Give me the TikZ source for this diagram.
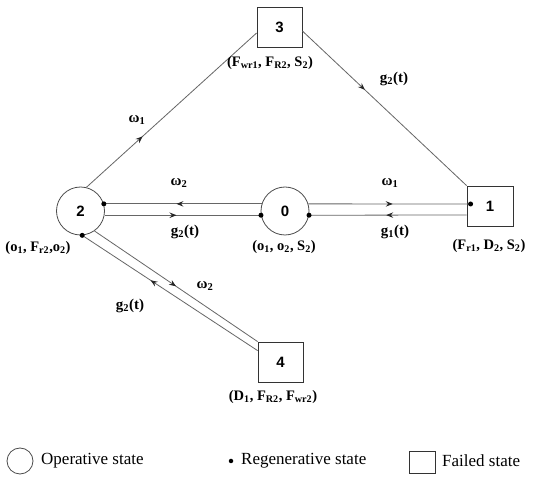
\documentclass[tikz,border=0pt]{standalone}
\usepackage{fontspec}
\setmainfont{Liberation Serif}
\newfontfamily\digitfont{Liberation Sans}
\usetikzlibrary{arrows.meta,decorations.markings,calc}
\begin{document}
\begin{tikzpicture}[x=1pt,y=-1pt,
  stbox/.style={draw=black!80,line width=0.8pt,minimum width=45pt,minimum height=40pt,inner sep=0pt,font=\digitfont\bfseries\fontsize{15}{18}\selectfont},
  stcirc/.style={circle,draw=black!70,line width=0.8pt,minimum size=48pt,inner sep=0pt,font=\digitfont\bfseries\fontsize{15}{18}\selectfont},
  conn/.style={draw=black!60,line width=0.8pt},
  lab/.style={font=\bfseries\fontsize{15}{18}\selectfont,inner sep=0pt},
  tag/.style={font=\bfseries\fontsize{14.5}{17}\selectfont,inner sep=0pt},
  legtxt/.style={font=\fontsize{17}{20}\selectfont,inner sep=0pt,anchor=west},
  regdot/.style={circle,fill=black,inner sep=0pt,minimum size=5pt},
  arrat/.style={postaction=decorate,decoration={markings,mark=at position #1 with {\arrow[black!85]{Stealth[length=7pt,width=5.5pt,inset=2.5pt]}}}},
]
\useasboundingbox[fill=white] (0,0) rectangle (547,478);

% states
\node[stcirc] (n2) at (80.5,211) {2};
\node[stcirc] (n0) at (285,211) {0};
\node[stbox,minimum width=46pt] (n1) at (490,206) {1};
\node[stbox] (n3) at (279.5,27) {3};
\node[stbox] (n4) at (280.5,362) {4};

% attachment points
\coordinate (d1) at ($(n1.west)+(4,-2)$);
\coordinate (b1) at ($(n1.west)+(0,9)$);
\coordinate (e3) at ($(n3.west)+(0,6)$);
\coordinate (f3) at ($(n3.east)+(0,4)$);
\coordinate (b4) at ($(n4.north west)+(0,9)$);

% transitions
\draw[conn,arrat=0.54] (n0.163) -- (n2.17);
\draw[conn,arrat=0.46] (n2.-10) -- (n0.190);
\draw[conn,arrat=0.52] (n0.17) -- (d1);
\draw[conn,arrat=0.51] (b1) -- (n0.-10);
\draw[conn,arrat=0.33] (n2.76) -- (e3);
\draw[conn,arrat=0.38] (f3) -- (n1.north west);
\draw[conn,arrat=0.50] (n2.-55) -- (n4.north west);
\draw[conn,arrat=0.61] (b4) -- (n2.-86);

% regenerative points
\node[regdot] (r1) at (n2.17) {};
\node[regdot] (r2) at (n2.-86) {};
\node[regdot] (r3) at (n0.190) {};
\node[regdot] (r4) at (n0.-10) {};
\node[regdot] (r5) at (d1) {};

% rate labels
\node[lab] (w1a) at (137,120) {ω\textsubscript{1}};
\node[lab] (w2a) at (179,183) {ω\textsubscript{2}};
\node[lab] (g2a) at (185,232) {g\textsubscript{2}(t)};
\node[lab] (w1b) at (390,183) {ω\textsubscript{1}};
\node[lab] (g1b) at (395,232) {g\textsubscript{1}(t)};
\node[lab] (g2c) at (394,79) {g\textsubscript{2}(t)};
\node[lab] (w2d) at (205,286) {ω\textsubscript{2}};
\node[lab] (g2d) at (130,306) {g\textsubscript{2}(t)};

% state tags
\node[tag] (t2) at (38,248) {(o\textsubscript{1}, F\textsubscript{r2},o\textsubscript{2})};
\node[tag] (t0) at (284,247) {(o\textsubscript{1}, o\textsubscript{2}, S\textsubscript{2})};
\node[tag] (t1) at (489,246) {(F\textsubscript{r1}, D\textsubscript{2}, S\textsubscript{2})};
\node[tag] (t3) at (270,63) {(F\textsubscript{wr1}, F\textsubscript{R2}, S\textsubscript{2})};
\node[tag] (t4) at (273,397) {(D\textsubscript{1}, F\textsubscript{R2}, F\textsubscript{wr2})};

% legend
\node[circle,draw=black!70,line width=0.8pt,minimum size=26pt,inner sep=0pt] (lc) at (20,461) {};
\node[legtxt] (lct) at (41,461) {Operative state};
\node[regdot,minimum size=4.5pt] (ld) at (231,461) {};
\node[legtxt] (ldt) at (241,461) {Regenerative state};
\node[draw=black!80,line width=0.8pt,minimum width=26pt,minimum height=22pt,inner sep=0pt] (lb) at (422,462) {};
\node[legtxt] (lbt) at (442,461) {Failed state};
\end{tikzpicture}
\end{document}
